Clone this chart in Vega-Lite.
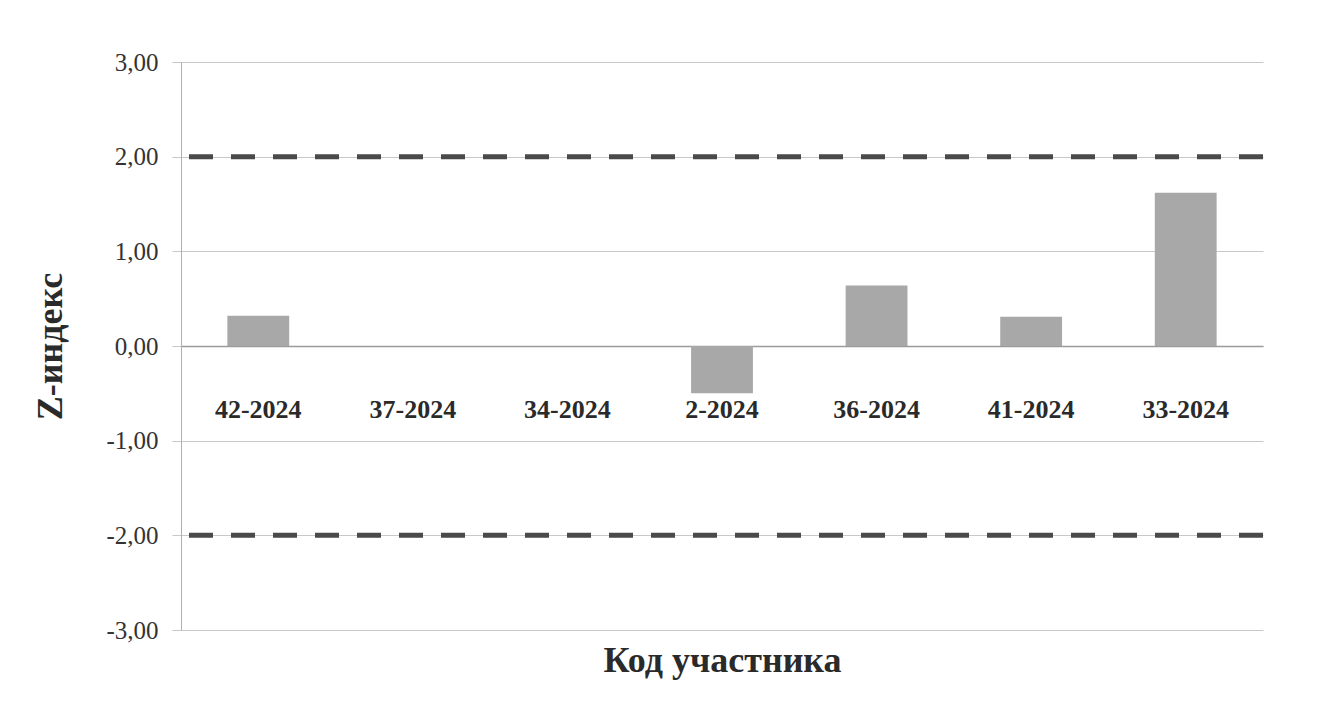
{
  "$schema": "https://vega.github.io/schema/vega-lite/v6.json",
  "autosize": "none",
  "width": 1082,
  "height": 568,
  "padding": {"left": 181, "top": 62, "right": 61, "bottom": 72},
  "background": "white",
  "config": {
    "view": {"stroke": null},
    "font": "Liberation Serif"
  },
  "datasets": {
    "bars": [
      {"code": "42-2024", "z": 0.32},
      {"code": "37-2024", "z": 0.0},
      {"code": "34-2024", "z": 0.0},
      {"code": "2-2024", "z": -0.5},
      {"code": "36-2024", "z": 0.64},
      {"code": "41-2024", "z": 0.31},
      {"code": "33-2024", "z": 1.62}
    ],
    "limits": [{"ref": 2}, {"ref": -2}]
  },
  "layer": [
    {
      "data": {"name": "bars"},
      "mark": {"type": "bar", "color": "#a8a8a8"},
      "encoding": {
        "x": {
          "field": "code",
          "type": "nominal",
          "sort": null,
          "scale": {"paddingInner": 0.6, "paddingOuter": 0.3},
          "axis": {
            "orient": "bottom",
            "offset": -284,
            "domainColor": "#9a9a9a",
            "domainWidth": 1.5,
            "ticks": false,
            "labelAngle": 0,
            "labelFont": "Liberation Serif",
            "labelFontSize": 26,
            "labelFontWeight": "bold",
            "labelColor": "#2a2a2a",
            "labelPadding": 50,
            "title": "Код участника",
            "titleFont": "Liberation Serif",
            "titleFontSize": 36,
            "titleFontWeight": "bold",
            "titleColor": "#2a2a2a",
            "titleY": 314,
            "titleBaseline": "middle"
          }
        },
        "y": {
          "field": "z",
          "type": "quantitative",
          "scale": {"domain": [-3, 3], "nice": false},
          "axis": {
            "values": [-3, -2, -1, 0, 1, 2, 3],
            "labelExpr": "replace(replace(format(datum.value, '.2f'), '.', ','), '−', '-')",
            "labelFont": "Liberation Serif",
            "labelFontSize": 25,
            "labelColor": "#333333",
            "labelPadding": 14,
            "tickSize": 9,
            "tickColor": "#c8c8c8",
            "domainColor": "#b0b0b0",
            "gridColor": "#c8c8c8",
            "gridWidth": 1,
            "title": "Z-индекс",
            "titleFont": "Liberation Serif",
            "titleFontSize": 36,
            "titleFontWeight": "bold",
            "titleColor": "#2a2a2a",
            "titlePadding": 36
          }
        }
      }
    },
    {
      "data": {"name": "limits"},
      "mark": {"type": "rule", "color": "#4a4a4a", "strokeWidth": 5, "strokeDash": [24, 18]},
      "encoding": {
        "y": {"field": "ref", "type": "quantitative"}
      }
    }
  ]
}
